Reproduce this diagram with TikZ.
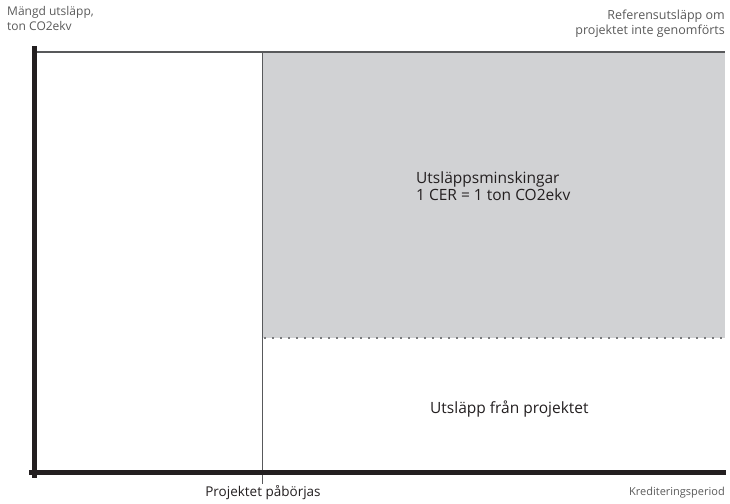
\documentclass[tikz,border=0pt]{standalone}
\usepackage{fontspec}
\setmainfont{Open Sans}
\definecolor{areagray}{HTML}{D1D2D4}
\definecolor{axisblack}{HTML}{231F20}
\definecolor{refgray}{HTML}{58595B}
\definecolor{labelgray}{HTML}{5A5A5A}
\tikzset{
  axisline/.style={line width=5pt, axisblack},
  smalllabel/.style={font=\fontsize{12}{15}\selectfont, text=labelgray, inner sep=0pt},
  biglabel/.style={font=\fontsize{15.5}{16.5}\selectfont, text=axisblack, inner sep=0pt}
}
\begin{document}
\begin{tikzpicture}[x=1pt,y=-1pt]
\useasboundingbox (0,0) rectangle (730,503);
% reduction area
\fill[areagray] (262,52) rectangle (725,338);
\draw[line width=1.5pt, refgray] (35,52) -- (725,52);
\draw[line width=1.5pt, refgray!80, dash pattern=on 2pt off 6pt] (264,338) -- (725,338);
\draw[line width=1pt, refgray] (262,52) -- (262,484);
% axes
\draw[axisline] (34.5,46) -- (34.5,478);
\draw[axisline] (29,472.5) -- (726,472.5);
% labels
\node (ylabel) [smalllabel, anchor=north west, align=left] at (7,6) {Mängd utsläpp,\\ton CO2ekv};
\node (reflabel) [smalllabel, font=\fontsize{12.5}{15}\selectfont, anchor=north east, align=right] at (725,10) {Referensutsläpp om\\projektet inte genomförts};
\node (cutlabel) [biglabel, anchor=north west, align=left] at (416,172) {Utsläppsminskingar\\1 CER = 1 ton CO2ekv};
\node (projlabel) [biglabel, anchor=west] at (430,409) {Utsläpp från projektet};
\node (startlabel) [biglabel, font=\fontsize{13.5}{15}\selectfont] at (263,493) {Projektet påbörjas};
\node (xlabel) [smalllabel, font=\fontsize{11}{13}\selectfont, anchor=east] at (725,493) {Krediteringsperiod};
\end{tikzpicture}
\end{document}
